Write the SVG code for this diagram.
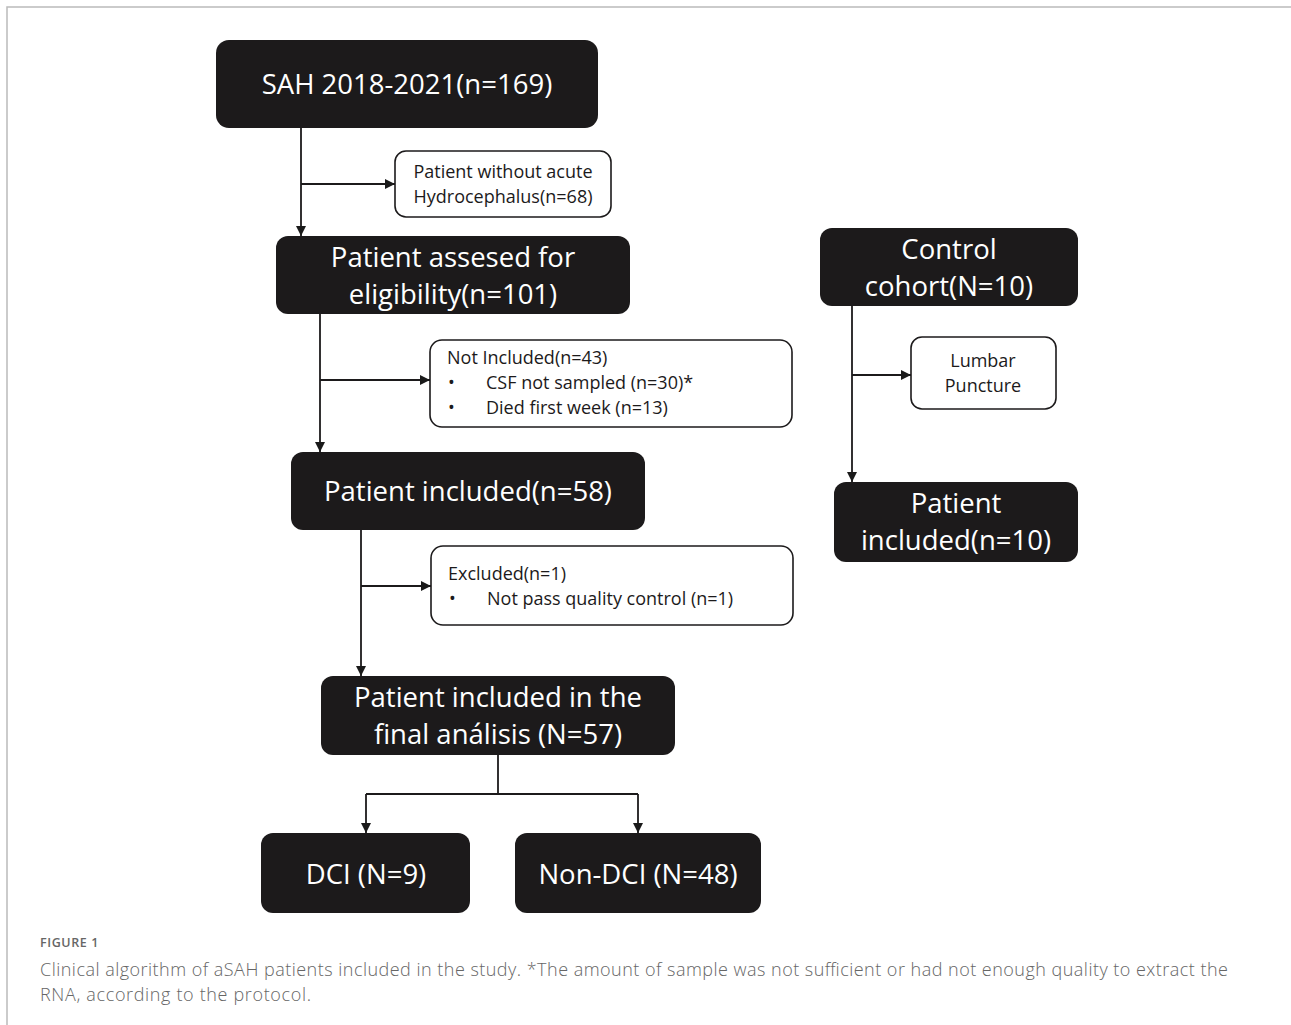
<svg xmlns="http://www.w3.org/2000/svg" width="1291" height="1025" viewBox="0 0 1291 1025">
<defs>
<marker id="arr" viewBox="0 0 10 10" refX="10" refY="5" markerWidth="10" markerHeight="10" markerUnits="userSpaceOnUse" orient="auto">
<path d="M0,0 L10,5 L0,10 Z" fill="#1a1a1a"/>
</marker>
</defs>
<style>
.dark{fill:#1c1a1b;}
.light{fill:#ffffff;stroke:#1c1a1b;stroke-width:1.6;}
.big{font-family:"Open Sans","Liberation Sans",sans-serif;font-size:27.5px;fill:#ffffff;text-anchor:middle;}
.small{font-family:"Open Sans","Liberation Sans",sans-serif;font-size:18px;fill:#1c1a1b;}
.mid{text-anchor:middle;}
.conn{stroke:#1c1a1b;stroke-width:1.8;fill:none;}
.cap{font-family:"Open Sans","Liberation Sans",sans-serif;fill:#666666;}
</style>
<rect width="1291" height="1025" fill="#ffffff"/>
<path d="M7,1025 L7,7 L1291,7" fill="none" stroke="#bbbbbb" stroke-width="1.5"/>

<g id="connectors">
<line class="conn" x1="301" y1="128" x2="301" y2="236" marker-end="url(#arr)"/>
<line class="conn" x1="301" y1="184" x2="395" y2="184" marker-end="url(#arr)"/>
<line class="conn" x1="320" y1="314" x2="320" y2="452" marker-end="url(#arr)"/>
<line class="conn" x1="320" y1="380" x2="430" y2="380" marker-end="url(#arr)"/>
<line class="conn" x1="361" y1="530" x2="361" y2="676" marker-end="url(#arr)"/>
<line class="conn" x1="361" y1="586" x2="431" y2="586" marker-end="url(#arr)"/>
<path class="conn" d="M498,755 L498,794"/>
<path class="conn" d="M366,794 L638,794"/>
<line class="conn" x1="366" y1="794" x2="366" y2="833" marker-end="url(#arr)"/>
<line class="conn" x1="638" y1="794" x2="638" y2="833" marker-end="url(#arr)"/>
<line class="conn" x1="852" y1="306" x2="852" y2="482" marker-end="url(#arr)"/>
<line class="conn" x1="852" y1="375" x2="911" y2="375" marker-end="url(#arr)"/>
</g>

<g id="sah">
<rect class="dark" x="216" y="40" width="382" height="88" rx="13"/>
<text class="big" x="407" y="94">SAH 2018-2021(n=169)</text>
</g>
<g id="no-hydro">
<rect class="light" x="395" y="151" width="216" height="66" rx="11"/>
<text class="small mid" x="503" y="178">Patient without acute</text>
<text class="small mid" x="503" y="203">Hydrocephalus(n=68)</text>
</g>
<g id="assessed">
<rect class="dark" x="276" y="236" width="354" height="78" rx="12"/>
<text class="big" x="453" y="267">Patient assesed for</text>
<text class="big" x="453" y="304">eligibility(n=101)</text>
</g>
<g id="not-included">
<rect class="light" x="430" y="340" width="362" height="87" rx="12"/>
<text class="small" x="447" y="364">Not Included(n=43)</text>
<text class="small" x="448" y="389">•</text>
<text class="small" x="486" y="389">CSF not sampled (n=30)*</text>
<text class="small" x="448" y="414">•</text>
<text class="small" x="486" y="414">Died first week (n=13)</text>
</g>
<g id="included58">
<rect class="dark" x="291" y="452" width="354" height="78" rx="12"/>
<text class="big" x="468" y="501">Patient included(n=58)</text>
</g>
<g id="excluded">
<rect class="light" x="431" y="546" width="362" height="79" rx="12"/>
<text class="small" x="448" y="580">Excluded(n=1)</text>
<text class="small" x="449" y="605">•</text>
<text class="small" x="487" y="605">Not pass quality control (n=1)</text>
</g>
<g id="final">
<rect class="dark" x="321" y="676" width="354" height="79" rx="12"/>
<text class="big" x="498" y="707">Patient included in the</text>
<text class="big" x="498" y="744">final análisis (N=57)</text>
</g>
<g id="dci">
<rect class="dark" x="261" y="833" width="209" height="80" rx="12"/>
<text class="big" x="366" y="884">DCI (N=9)</text>
</g>
<g id="nondci">
<rect class="dark" x="515" y="833" width="246" height="80" rx="12"/>
<text class="big" x="638" y="884">Non-DCI (N=48)</text>
</g>
<g id="control">
<rect class="dark" x="820" y="228" width="258" height="78" rx="12"/>
<text class="big" x="949" y="259">Control</text>
<text class="big" x="949" y="296">cohort(N=10)</text>
</g>
<g id="lumbar">
<rect class="light" x="911" y="337" width="145" height="72" rx="11"/>
<text class="small mid" x="983" y="367">Lumbar</text>
<text class="small mid" x="983" y="392">Puncture</text>
</g>
<g id="included10">
<rect class="dark" x="834" y="482" width="244" height="80" rx="12"/>
<text class="big" x="956" y="513">Patient</text>
<text class="big" x="956" y="550">included(n=10)</text>
</g>

<text class="cap" x="40" y="947" font-size="12.5" font-weight="600" fill="#555555" letter-spacing="0.6">FIGURE 1</text>
<text class="cap" x="40" y="976" font-size="18" font-weight="300" textLength="1188" lengthAdjust="spacing">Clinical algorithm of aSAH patients included in the study. *The amount of sample was not sufficient or had not enough quality to extract the</text>
<text class="cap" x="40" y="1001" font-size="18" font-weight="300" textLength="271" lengthAdjust="spacing">RNA, according to the protocol.</text>
</svg>
